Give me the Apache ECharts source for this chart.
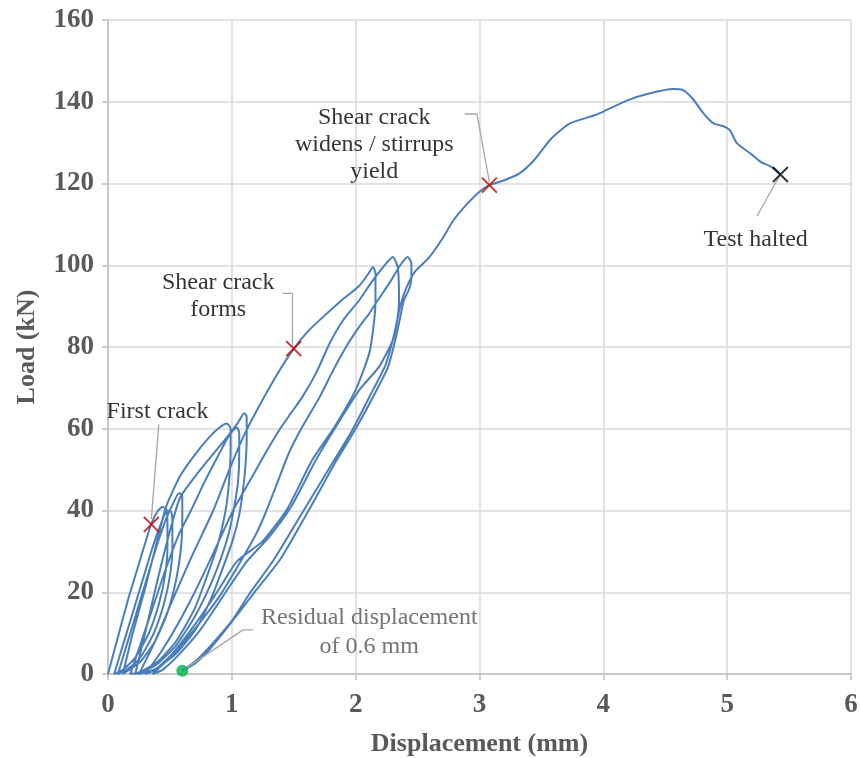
<!DOCTYPE html>
<html>
<head>
<meta charset="utf-8">
<script src="https://cdn.jsdelivr.net/npm/echarts@6/dist/echarts.min.js"></script>
<style>html,body{margin:0;padding:0;background:#fff}#c{width:860px;height:758px}</style>
</head>
<body>
<div id="c"></div>
<script>
// ---- Data (displacement mm, load kN) ----
const cycle40a = [[0,0],[0.08,9],[0.16,18],[0.24,26],[0.3,32],[0.35,36.8],[0.4,39.8],[0.44,40.9],[0.47,40.3],
  [0.48,37],[0.48,31],[0.46,24],[0.41,17],[0.33,10],[0.22,4],[0.12,1],[0.05,0]];
const cycle40b = [[0.12,7],[0.2,15],[0.28,23],[0.36,31],[0.43,37],[0.48,40],[0.51,39.7],[0.52,37],
  [0.52,31],[0.5,24],[0.45,17],[0.37,10],[0.26,4],[0.15,1],[0.08,0]];
const cycle40c = [[0.15,7],[0.23,15],[0.31,23],[0.39,31],[0.47,38],[0.53,42],[0.56,43.8],[0.58,44.2],[0.6,43.5],
  [0.6,38],[0.59,31],[0.55,23],[0.48,15],[0.38,8],[0.26,3],[0.12,0]];
const cycle60a = [[0.2,10],[0.3,21],[0.4,33],[0.47,41],[0.58,48.3],[0.69,53.2],[0.82,58],[0.9,60.3],[0.96,61.3],
  [0.99,60],[0.99,55],[0.98,48],[0.96,42],[0.93,37],[0.88,31],[0.8,24],[0.7,16],[0.55,8],[0.4,3],[0.26,0.5],[0.18,0]];
const cycle60b = [[0.27,8],[0.37,17],[0.47,26],[0.57,34],[0.67,40],[0.78,47],[0.9,54],[0.98,58.5],[1.04,60.3],
  [1.06,59],[1.06,54],[1.05,47],[1.02,41],[0.98,35],[0.92,29],[0.83,22],[0.7,14],[0.55,7],[0.4,2.5],[0.28,0.5],[0.22,0]];
const cycle60c = [[0.3,10],[0.4,23],[0.5,35],[0.58,43],[0.67,47],[0.8,52],[0.95,57.5],[1.05,61.5],[1.1,63.8],[1.12,63],
  [1.12,58],[1.11,51],[1.09,45],[1.06,39],[1.01,33],[0.94,27],[0.84,19],[0.71,11],[0.55,5],[0.38,1.2],[0.25,0]];
const cycle100a = [[0.38,8],[0.52,18],[0.68,29],[0.85,40],[0.98,50],[1.1,58.5],[1.22,65.5],[1.35,72.5],
  [1.5,79.6],[1.62,84],[1.76,88],[1.89,91.5],[2.03,95],[2.1,97.8],[2.14,99.6],
  [2.16,98],[2.16,91.5],[2.15,86.6],[2.11,78.5],[2.0,69.5],[1.83,60.5],[1.65,52.4],[1.45,40.5],[1.25,32.5],
  [1.04,27.5],[0.88,20],[0.7,12],[0.52,5],[0.38,1],[0.3,0]];
const cycle100b = [[0.42,5],[0.56,12],[0.7,20],[0.85,29.5],[1.01,40],[1.15,47.5],[1.28,54.5],[1.39,60],[1.47,63.5],
  [1.57,67.8],[1.68,73.6],[1.79,80.9],[1.9,86.6],[2.03,91.5],[2.12,95.5],[2.22,99.5],[2.3,102],
  [2.34,99.5],[2.35,91.5],[2.34,87.4],[2.3,81.7],[2.19,75.2],[2.03,69.5],[1.84,60.5],[1.68,52.4],[1.48,41],[1.3,33.5],
  [1.12,27.5],[0.95,20],[0.75,11],[0.58,5],[0.44,1],[0.36,0]];
const cycle100c = [[0.5,4],[0.7,11],[0.9,19],[1.08,28],[1.2,34.5],[1.28,40],[1.37,47],[1.46,54],[1.56,60],[1.71,67.8],
  [1.82,74.4],[1.94,80.9],[2.03,85],[2.11,88.2],[2.18,91.5],[2.28,96],[2.36,100],[2.42,102],
  [2.45,100.5],[2.45,97],[2.43,94],[2.39,91.5],[2.33,83],[2.26,75],[2.17,69.5],[2.0,60],[1.84,52],[1.62,40],
  [1.39,28],[1.17,19.5],[0.98,12],[0.82,6],[0.7,2.5],[0.6,0.8]];
const finalLoad = [[0.72,3.5],[0.86,8],[1.0,13],[1.14,19.5],[1.34,28],[1.58,40],[1.82,52],[1.97,59.5],[2.14,69.5],
  [2.24,75.5],[2.31,83],[2.36,90],[2.41,94.5],[2.48,98.5],[2.59,101.8],[2.7,106.5],[2.79,111],[2.9,115],[3.0,118],
  [3.08,119.6],[3.2,120.8],[3.32,122.4],[3.44,125.7],[3.58,131],[3.73,134.7],[3.93,136.7],[4.0,137.6],[4.2,140.4],
  [4.37,142],[4.56,143.1],[4.64,142.9],[4.72,140.8],[4.81,137.1],[4.89,134.7],[4.97,134],[5.02,133.1],[5.08,129.8],
  [5.19,127.3],[5.27,125.3],[5.35,124.2],[5.43,122.2]];

const redEvents = [[0.35,36.6],[1.5,79.6],[3.08,119.6]];
const haltEvent = [[5.43,122.2]];
const residualPoint = [[0.6,0.8]];

const xTicks = [0,1,2,3,4,5,6];
const yTicks = [0,20,40,60,80,100,120,140,160];

// annotation text anchors (data coords) and leader lines
const notes = [
  {name:'First crack', value:[0.40,64.2]},
  {name:'Shear crack\nforms', value:[0.89,92.5]},
  {name:'Shear crack\nwidens / stirrups\nyield', value:[2.15,129.6]},
  {name:'Test halted', value:[5.23,106.3]}
];
const noteGray = [{name:'Residual displacement\nof 0.6 mm', value:[2.11,10.2]}];
const leader1 = [[0.41,61.0],[0.35,37.9]];
const leader2 = [[1.41,93.1],[1.49,93.1],[1.49,80.3]];
const leader3 = [[2.88,137.0],[2.98,137.0],[3.08,120.3]];
const leader4 = [[5.24,112.0],[5.42,121.7]];
const leader5 = [[1.17,10.8],[1.09,10.8],[0.62,1.2]];

const curve = [].concat(cycle40a, cycle40b, cycle40c, cycle60a, cycle60b, cycle60c,
  cycle100a, cycle100b, cycle100c, residualPoint, finalLoad);

const serif = 'Liberation Serif, Times New Roman, serif';
const xPath = 'path://M0,0L10,10M10,0L0,10';
function leader(d){return {type:'line',data:d,showSymbol:false,symbol:'none',silent:true,
  lineStyle:{color:'#a6a6a6',width:1.3},z:3,animation:false};}

const chart = echarts.init(document.getElementById('c'));
chart.setOption({
  animation:false,
  grid:{left:108,right:9,top:20,bottom:84,containLabel:false,outerBoundsMode:'none'},
  xAxis:{type:'value',min:0,max:6,interval:1,
    name:'Displacement (mm)',nameLocation:'middle',nameGap:57,
    nameTextStyle:{fontFamily:serif,fontWeight:'bold',fontSize:26,color:'#595959'},
    axisLine:{show:true,onZero:false,lineStyle:{color:'#bfbfbf',width:1.5}},
    axisTick:{show:true,length:6,lineStyle:{color:'#bfbfbf',width:1.5}},
    splitLine:{show:true,lineStyle:{color:'#d9d9d9',width:1.5}},
    axisLabel:{fontFamily:serif,fontWeight:'bold',fontSize:27,color:'#595959',margin:18,
      formatter:v=>xTicks.includes(v)?String(v):''}},
  yAxis:{type:'value',min:0,max:160,interval:20,
    name:'Load (kN)',nameLocation:'middle',nameGap:68,nameRotate:90,
    nameTextStyle:{fontFamily:serif,fontWeight:'bold',fontSize:26,color:'#595959'},
    axisLine:{show:true,lineStyle:{color:'#bfbfbf',width:1.5}},
    axisTick:{show:true,length:6,lineStyle:{color:'#bfbfbf',width:1.5}},
    splitLine:{show:true,lineStyle:{color:'#d9d9d9',width:1.5}},
    axisLabel:{fontFamily:serif,fontWeight:'bold',fontSize:27,color:'#595959',margin:14,
      formatter:v=>yTicks.includes(v)?String(v):''}},
  series:[
    {type:'line',data:curve,showSymbol:false,symbol:'none',smooth:0.2,
      lineStyle:{color:'#4a7ebb',width:2},z:2},
    leader(leader1),leader(leader2),leader(leader3),leader(leader4),leader(leader5),
    {type:'scatter',data:redEvents,symbol:xPath,symbolSize:15,z:5,
      itemStyle:{color:'rgba(0,0,0,0)',borderColor:'#c00000',borderWidth:2}},
    {type:'scatter',data:haltEvent,symbol:xPath,symbolSize:15,z:5,
      itemStyle:{color:'rgba(0,0,0,0)',borderColor:'#000000',borderWidth:2}},
    {type:'scatter',data:residualPoint,symbol:'circle',symbolSize:12,z:5,
      itemStyle:{color:'#00b050'}},
    {type:'scatter',data:notes,symbolSize:0,z:6,silent:true,
      label:{show:true,position:'inside',formatter:'{b}',fontFamily:serif,fontSize:24,lineHeight:27,color:'#000',align:'center'}},
    {type:'scatter',data:noteGray,symbolSize:0,z:6,silent:true,
      label:{show:true,position:'inside',formatter:'{b}',fontFamily:serif,fontSize:24,lineHeight:29,color:'#505050',align:'center'}}
  ]
});
</script>
</body>
</html>
